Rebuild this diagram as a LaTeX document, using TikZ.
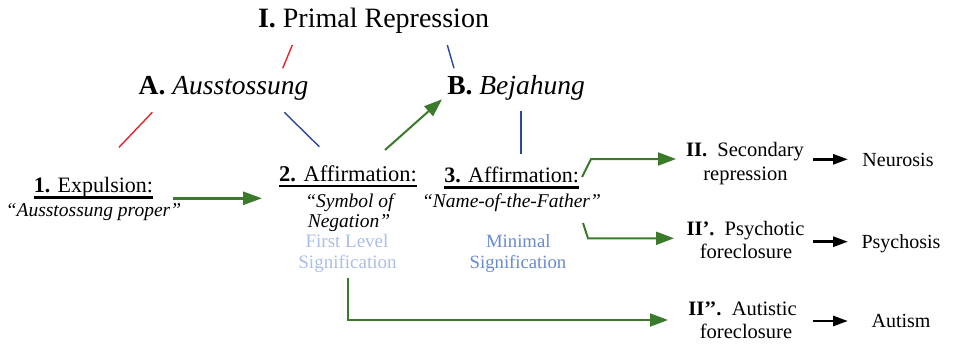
\documentclass[tikz,border=0pt]{standalone}
\usepackage{fontspec}
\newfontfamily\tms{Liberation Serif}[Ligatures=NoCommon]
\newcommand\fs[1]{\tms\fontsize{#1}{#1}\selectfont}
\usetikzlibrary{arrows.meta}
\definecolor{gr}{RGB}{58,122,42}
\definecolor{rd}{RGB}{232,34,42}
\definecolor{bl}{RGB}{42,70,160}
\definecolor{lbl}{RGB}{170,190,234}
\definecolor{mbl}{RGB}{104,138,206}
\newcommand\myul[1]{\setbox0\hbox{#1}\rlap{\rule[-6pt]{\wd0}{2.5pt}}\box0}
\tikzset{
  txt/.style={inner sep=0pt, anchor=base},
  garrow/.style={gr, line width=2pt, -{Triangle[length=18pt,width=13pt]}},
  karrow/.style={black, line width=2.8pt, -{Triangle[length=15pt,width=10pt]}},
  tie/.style={line width=1.4pt},
}
\begin{document}
\begin{tikzpicture}[x=1pt,y=-1pt]
\useasboundingbox (0,0) rectangle (957,345);
\node[txt, font=\fs{28}] (I) at (373.5,28) {\textbf{I.} Primal Repression};
\node[txt, font=\fs{27.5}] (A) at (223.5,94) {\textbf{A.} \textit{Ausstossung}};
\node[txt, font=\fs{27.5}] (B) at (516,94) {\textbf{B.} \textit{Bejahung}};

\node[txt, font=\fs{22}] (e1) at (93.5,192.5) {\myul{\textbf{1.} Expulsion:}};
\node[txt, font=\fs{19.5}\itshape] (e1b) at (93.5,216.5) {“Ausstossung proper”};

\node[txt, font=\fs{22.5}] (a2) at (348,181) {\myul{\textbf{2.} Affirmation:}};
\node[txt, font=\fs{19.5}\itshape] (a2b) at (349.5,207.5) {“Symbol of};
\node[txt, font=\fs{19.5}\itshape] (a2bb) at (349,227.3) {Negation”};
\node[txt, font=\fs{19}, text=lbl] (a2c) at (347,247.3) {First Level};
\node[txt, font=\fs{19}, text=lbl] (a2cc) at (347.5,268.3) {Signification};

\node[txt, font=\fs{22}] (a3) at (511.7,182.5) {\myul{\textbf{3.} Affirmation:}};
\node[txt, font=\fs{19.5}\itshape] (a3b) at (511.5,207) {“Name-of-the-Father”};
\node[txt, font=\fs{18.7}, text=mbl] (a3c) at (518.3,247.3) {Minimal};
\node[txt, font=\fs{18.7}, text=mbl] (a3cc) at (518,268.3) {Signification};

\node[txt, font=\fs{20.5}] (s1) at (745,156) {\textbf{II.}\ \ Secondary};
\node[txt, font=\fs{20.5}] (s1b) at (745.5,180) {repression};
\node[txt, font=\fs{20.5}] (s2) at (745.5,235) {\textbf{II’.}\ \ Psychotic};
\node[txt, font=\fs{20.5}] (s2b) at (746,258.3) {foreclosure};
\node[txt, font=\fs{20.5}] (s3) at (742.5,315) {\textbf{II’’.}\ \ Autistic};
\node[txt, font=\fs{20.5}] (s3b) at (746,338.3) {foreclosure};

\node[txt, font=\fs{20}] (n1) at (898,166.7) {Neurosis};
\node[txt, font=\fs{20}] (n2) at (901,248.3) {Psychosis};
\node[txt, font=\fs{20}] (n3) at (901,327.3) {Autism};

% ties
\coordinate (tIa) at (292.3,45); \coordinate (tAa) at (282.7,68.3);
\coordinate (tIb) at (447.3,45); \coordinate (tBb) at (454,68.3);
\coordinate (tA1) at (152.3,112.3); \coordinate (t1) at (119,147.3);
\coordinate (tA2) at (284.3,112.3); \coordinate (t2) at (319.3,146.7);
\coordinate (tB3) at (521,111); \coordinate (t3) at (521,154.3);
\draw[tie, rd] (tIa) -- (tAa);
\draw[tie, bl] (tIb) -- (tBb);
\draw[tie, rd] (tA1) -- (t1);
\draw[tie, bl] (tA2) -- (t2);
\draw[tie, bl] (tB3) -- (t3);

% green arrows
\coordinate (g2s) at (385,150); \coordinate (gBe) at (442,99.3);
\draw[garrow] (g2s) -- (gBe);
\coordinate (g1s) at (173,198.3); \coordinate (g1e) at (262,198.3);
\draw[garrow, line width=2.8pt, -{Triangle[length=19pt,width=13pt]}] (g1s) -- (g1e);
\coordinate (g3a) at (582,177); \coordinate (g3b) at (591,159); \coordinate (g3e) at (676,159);
\draw[garrow] (g3a) -- (g3b) -- (g3e);
\coordinate (g4a) at (583,223); \coordinate (g4b) at (588,238.3); \coordinate (g4e) at (674,238.3);
\draw[garrow] (g4a) -- (g4b) -- (g4e);
\coordinate (g5a) at (348,278); \coordinate (g5b) at (348,320); \coordinate (g5e) at (668,320);
\draw[garrow] (g5a) -- (g5b) -- (g5e);

% black arrows
\coordinate (k1s) at (812.7,159.3); \coordinate (k1e) at (848,159.3);
\coordinate (k2s) at (812.7,241.7); \coordinate (k2e) at (848,241.7);
\coordinate (k3s) at (812.7,321);   \coordinate (k3e) at (848,321);
\draw[karrow] (k1s) -- (k1e);
\draw[karrow] (k2s) -- (k2e);
\draw[karrow] (k3s) -- (k3e);
\end{tikzpicture}
\end{document}
